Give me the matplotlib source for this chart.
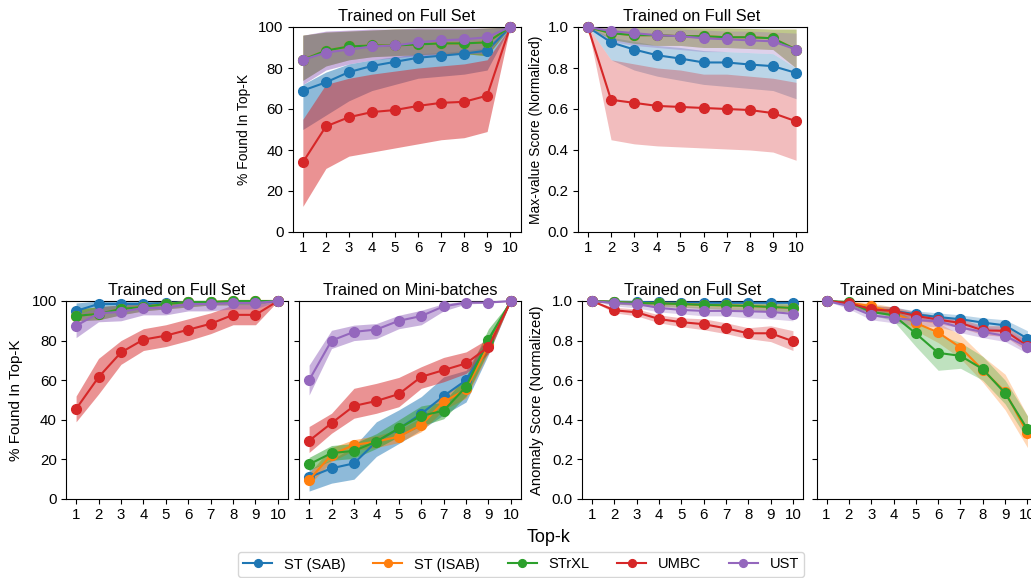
import matplotlib
matplotlib.use("Agg")
import matplotlib.pyplot as plt

plt.rcParams['font.family'] = ['Liberation Sans', 'DejaVu Sans']

topk = [1, 2, 3, 4, 5, 6, 7, 8, 9, 10]
names = ['ST (SAB)', 'ST (ISAB)', 'STrXL', 'UMBC', 'UST']
colors = ['#1f77b4', '#ff7f0e', '#2ca02c', '#d62728', '#9467bd']

# top row, trained on full set: % found in top-k  (order: SAB, ISAB, STrXL, UMBC, UST)
top_found_mid = [
    [69, 73, 78, 81, 83, 85, 86, 87, 88.5, 100],
    [84, 88.5, 90.5, 91, 91, 91.5, 92, 92, 92.5, 100],
    [84, 88.5, 90.5, 91, 91, 91.5, 92, 92, 92.5, 100],
    [34, 51.5, 56, 58.5, 59.5, 61.5, 63, 63.5, 66.5, 100],
    [84, 87.5, 89, 90.5, 91, 92.5, 93.5, 94, 95, 100],
]
top_found_lo = [
    [50, 57, 64, 69, 72, 75, 76, 77, 79, 100],
    [74, 81, 84, 85.5, 86, 86.5, 87, 87, 86, 100],
    [74, 81, 84, 85.5, 86, 86.5, 87, 87, 86, 100],
    [12.5, 31, 37, 39, 41, 43, 45, 46, 49, 100],
    [72, 79, 82, 84, 85, 86, 86.5, 87, 87, 100],
]
top_found_hi = [
    [72, 78, 82, 84, 85.5, 87, 87.5, 88.5, 90, 100],
    [96, 97.5, 98, 98.5, 99, 99, 99, 99, 99.5, 100],
    [96, 97.5, 98, 98.5, 99, 99, 99, 99, 99.5, 100],
    [55, 72, 75, 77, 78.5, 80, 81, 82, 84, 100],
    [96, 98, 98.5, 99, 99, 99.5, 99.5, 99.5, 99.5, 100],
]

# top row, trained on full set: max-value score
top_score_mid = [
    [1.0, 0.925, 0.89, 0.862, 0.846, 0.827, 0.827, 0.817, 0.809, 0.776],
    [1.0, 0.97, 0.96, 0.96, 0.955, 0.955, 0.95, 0.95, 0.945, 0.89],
    [1.0, 0.97, 0.96, 0.96, 0.955, 0.955, 0.95, 0.95, 0.945, 0.89],
    [1.0, 0.645, 0.63, 0.615, 0.61, 0.605, 0.60, 0.595, 0.58, 0.54],
    [1.0, 0.98, 0.97, 0.96, 0.955, 0.945, 0.94, 0.935, 0.93, 0.89],
]
top_score_lo = [
    [1.0, 0.84, 0.79, 0.76, 0.74, 0.72, 0.71, 0.70, 0.69, 0.65],
    [1.0, 0.94, 0.92, 0.91, 0.91, 0.90, 0.90, 0.895, 0.89, 0.80],
    [1.0, 0.94, 0.92, 0.91, 0.91, 0.90, 0.90, 0.895, 0.89, 0.80],
    [1.0, 0.45, 0.43, 0.42, 0.415, 0.41, 0.405, 0.40, 0.39, 0.35],
    [1.0, 0.93, 0.91, 0.90, 0.89, 0.88, 0.88, 0.875, 0.87, 0.80],
]
top_score_hi = [
    [1.0, 0.95, 0.93, 0.91, 0.90, 0.885, 0.88, 0.875, 0.87, 0.80],
    [1.0, 1.0, 1.0, 0.998, 0.997, 0.995, 0.995, 0.993, 0.99, 0.99],
    [1.0, 1.0, 1.0, 0.998, 0.997, 0.995, 0.995, 0.993, 0.99, 0.99],
    [1.0, 0.84, 0.82, 0.80, 0.79, 0.77, 0.77, 0.76, 0.75, 0.73],
    [1.0, 1.0, 0.995, 0.99, 0.99, 0.985, 0.98, 0.98, 0.975, 0.97],
]

# bottom row, trained on full set: % found in top-k
full_found_mid = [
    [95, 98.5, 98.5, 98.5, 99, 99.5, 99.5, 99.5, 99.5, 100],
    [92.5, 93.5, 96, 97, 98.5, 99.5, 99.5, 100, 100, 100],
    [92.5, 93.5, 96, 97, 98.5, 99.5, 99.5, 100, 100, 100],
    [45.5, 61.5, 74, 80.5, 82.5, 85.5, 88.5, 93, 93, 100],
    [87.5, 93.8, 94.5, 96.5, 96.5, 98.5, 98.5, 99, 99, 100],
]
full_found_lo = [
    [91, 95, 96, 97, 98, 99, 99, 99, 99, 100],
    [90, 90.5, 93, 95, 96, 97, 98, 98, 98, 100],
    [90, 90.5, 93, 95, 96, 97, 98, 98, 98, 100],
    [39, 53, 68, 75, 77, 80, 83.5, 88, 88, 100],
    [81.5, 89.5, 90, 93, 93, 95, 95, 96, 96, 100],
]
full_found_hi = [
    [99, 100, 100, 100, 100, 100, 100, 100, 100, 100],
    [96, 97, 98, 99, 100, 100, 100, 100, 100, 100],
    [96, 97, 98, 99, 100, 100, 100, 100, 100, 100],
    [52, 71, 80, 86, 88, 91, 94, 98, 98, 100],
    [93, 97, 98, 99, 99.5, 100, 100, 100, 100, 100],
]

# bottom row, trained on mini-batches: % found in top-k
mini_found_mid = [
    [11, 15.5, 18, 29, 35.5, 43, 52, 60, 78.5, 100],
    [9.7, 22.3, 27.3, 29, 31.5, 37.4, 49, 55.4, 77.7, 100],
    [17.5, 23.2, 24.3, 29, 35.7, 42, 44.6, 56.7, 80.5, 100],
    [29.4, 38.3, 47, 49.5, 53, 61.7, 65.1, 68.5, 76.8, 100],
    [60, 80, 84.4, 85.6, 90, 92.4, 97.3, 99.2, 99.2, 100],
]
mini_found_lo = [
    [4, 8, 10, 21.5, 28, 35, 42.5, 49, 73, 100],
    [7, 19, 24.5, 26, 28.5, 34, 45, 51, 74, 100],
    [14.5, 19.5, 20.5, 25.5, 31.5, 37, 40.5, 52, 75, 100],
    [23.5, 33.2, 40.8, 43.3, 46.6, 55.9, 59.2, 63.4, 73.5, 100],
    [52.5, 76, 80, 81, 86, 88, 95, 98.5, 99, 100],
]
mini_found_hi = [
    [14.8, 19.8, 26.5, 39, 45, 51.7, 61.7, 65, 82.7, 100],
    [13, 26, 30, 32, 35, 41, 53, 59, 82, 100],
    [21, 27, 28, 33, 40, 47, 49, 62, 86, 100],
    [36.6, 43.3, 55.9, 58.4, 61.4, 66.8, 71.5, 74.3, 81, 100],
    [67.6, 85.2, 87.8, 88.6, 92.8, 95.3, 98.7, 100, 100, 100],
]

# bottom row, trained on full set: anomaly score
full_score_mid = [
    [1.0, 0.997, 0.995, 0.993, 0.992, 0.992, 0.991, 0.991, 0.991, 0.991],
    [1.0, 0.995, 0.99, 0.988, 0.985, 0.98, 0.978, 0.975, 0.97, 0.965],
    [1.0, 0.995, 0.99, 0.988, 0.985, 0.98, 0.978, 0.975, 0.97, 0.965],
    [1.0, 0.953, 0.943, 0.909, 0.893, 0.883, 0.862, 0.837, 0.837, 0.797],
    [1.0, 0.99, 0.985, 0.965, 0.955, 0.95, 0.95, 0.948, 0.945, 0.935],
]
full_score_lo = [
    [1.0, 0.985, 0.983, 0.98, 0.98, 0.978, 0.978, 0.977, 0.977, 0.976],
    [1.0, 0.985, 0.978, 0.972, 0.968, 0.962, 0.958, 0.955, 0.95, 0.945],
    [1.0, 0.985, 0.978, 0.972, 0.968, 0.962, 0.958, 0.955, 0.95, 0.945],
    [1.0, 0.94, 0.925, 0.89, 0.87, 0.855, 0.835, 0.81, 0.795, 0.75],
    [1.0, 0.975, 0.965, 0.945, 0.935, 0.925, 0.925, 0.915, 0.91, 0.9],
]
full_score_hi = [
    [1.0, 1.0, 1.0, 1.0, 1.0, 1.0, 1.0, 1.0, 1.0, 1.0],
    [1.0, 1.0, 0.998, 0.996, 0.995, 0.993, 0.992, 0.99, 0.988, 0.985],
    [1.0, 1.0, 0.998, 0.996, 0.995, 0.993, 0.992, 0.99, 0.988, 0.985],
    [1.0, 0.968, 0.96, 0.93, 0.915, 0.91, 0.89, 0.865, 0.875, 0.85],
    [1.0, 1.0, 0.997, 0.985, 0.975, 0.972, 0.97, 0.97, 0.968, 0.965],
]

# bottom row, trained on mini-batches: anomaly score
mini_score_mid = [
    [1.0, 0.99, 0.96, 0.95, 0.933, 0.919, 0.908, 0.891, 0.877, 0.81],
    [1.0, 0.99, 0.975, 0.941, 0.889, 0.841, 0.765, 0.651, 0.542, 0.332],
    [1.0, 0.995, 0.945, 0.928, 0.836, 0.738, 0.723, 0.656, 0.534, 0.352],
    [1.0, 0.99, 0.958, 0.95, 0.925, 0.906, 0.889, 0.852, 0.849, 0.773],
    [1.0, 0.975, 0.928, 0.914, 0.903, 0.898, 0.866, 0.844, 0.824, 0.768],
]
mini_score_lo = [
    [1.0, 0.975, 0.94, 0.93, 0.915, 0.9, 0.885, 0.865, 0.85, 0.78],
    [1.0, 0.98, 0.96, 0.91, 0.85, 0.79, 0.71, 0.59, 0.45, 0.26],
    [1.0, 0.985, 0.93, 0.90, 0.77, 0.65, 0.66, 0.60, 0.48, 0.30],
    [1.0, 0.975, 0.94, 0.93, 0.905, 0.885, 0.865, 0.83, 0.82, 0.745],
    [1.0, 0.96, 0.905, 0.89, 0.875, 0.87, 0.84, 0.815, 0.795, 0.735],
]
mini_score_hi = [
    [1.0, 1.0, 0.98, 0.97, 0.95, 0.94, 0.93, 0.915, 0.905, 0.85],
    [1.0, 1.0, 0.99, 0.97, 0.93, 0.89, 0.83, 0.72, 0.63, 0.42],
    [1.0, 1.0, 0.96, 0.96, 0.90, 0.83, 0.79, 0.72, 0.60, 0.42],
    [1.0, 1.0, 0.975, 0.97, 0.945, 0.925, 0.91, 0.875, 0.875, 0.8],
    [1.0, 0.99, 0.95, 0.94, 0.93, 0.925, 0.895, 0.87, 0.855, 0.8],
]

W, H = 1031, 578
fig = plt.figure(figsize=(W / 100, H / 100), dpi=100)


def box(left, top, width, height):
    return [left / W, 1 - (top + height) / H, width / W, height / H]


def draw(ax, mid, lo, hi, alpha, title, ylim, ylabel=None, ysize=10, ylabel_x=None):
    for i in range(len(names)):
        ax.fill_between(topk, lo[i], hi[i], color=colors[i], alpha=alpha, linewidth=0)
        ax.plot(topk, mid[i], marker='o', markersize=7, linewidth=1.5,
                color=colors[i], label=names[i], clip_on=False, zorder=3)
    ax.set_title(title, fontsize=11.7, pad=4)
    ax.set_ylim(ylim)
    ax.set_xticks(topk)
    ax.tick_params(labelsize=10.8, pad=3)
    if ylabel:
        # label x is the right edge of the rotated text
        ax.set_ylabel(ylabel, fontsize=ysize)
        ax.yaxis.set_label_coords(ylabel_x, 0.5)
    else:
        ax.set_yticklabels([])


ax1 = fig.add_axes(box(292.5, 27, 228, 205))
draw(ax1, top_found_mid, top_found_lo, top_found_hi, 0.5, 'Trained on Full Set',
     (0, 100), '% Found In Top-K', 10, (251 - 292.5) / 228)
ax2 = fig.add_axes(box(577.5, 27, 229, 205))
draw(ax2, top_score_mid, top_score_lo, top_score_hi, 0.3, 'Trained on Full Set',
     (0, 1.0), 'Max-value Score (Normalized)', 10, (543 - 577.5) / 229)

ax3 = fig.add_axes(box(66, 301, 222, 198))
draw(ax3, full_found_mid, full_found_lo, full_found_hi, 0.5, 'Trained on Full Set',
     (0, 100), '% Found In Top-K', 11, (23 - 66) / 222)
ax4 = fig.add_axes(box(299, 301, 222, 198))
draw(ax4, mini_found_mid, mini_found_lo, mini_found_hi, 0.5, 'Trained on Mini-batches',
     (0, 100))
ax5 = fig.add_axes(box(582, 301, 221, 198))
draw(ax5, full_score_mid, full_score_lo, full_score_hi, 0.3, 'Trained on Full Set',
     (0, 1.0), 'Anomaly Score (Normalized)', 10.6, (544 - 582) / 221)
ax6 = fig.add_axes(box(816.5, 301, 221, 198))
draw(ax6, mini_score_mid, mini_score_lo, mini_score_hi, 0.3, 'Trained on Mini-batches',
     (0, 1.0))

fig.text(549 / W, 1 - 537 / H, 'Top-k', ha='center', va='center', fontsize=13)

handles, labels = ax1.get_legend_handles_labels()
fig.legend(handles, labels, loc='center', bbox_to_anchor=(521 / W, 1 - 564.5 / H),
           ncol=5, fontsize=10.5, frameon=True, columnspacing=1.9, handlelength=2.0,
           borderpad=0.35, markerscale=0.8)

fig.savefig('out.png', dpi=100)
